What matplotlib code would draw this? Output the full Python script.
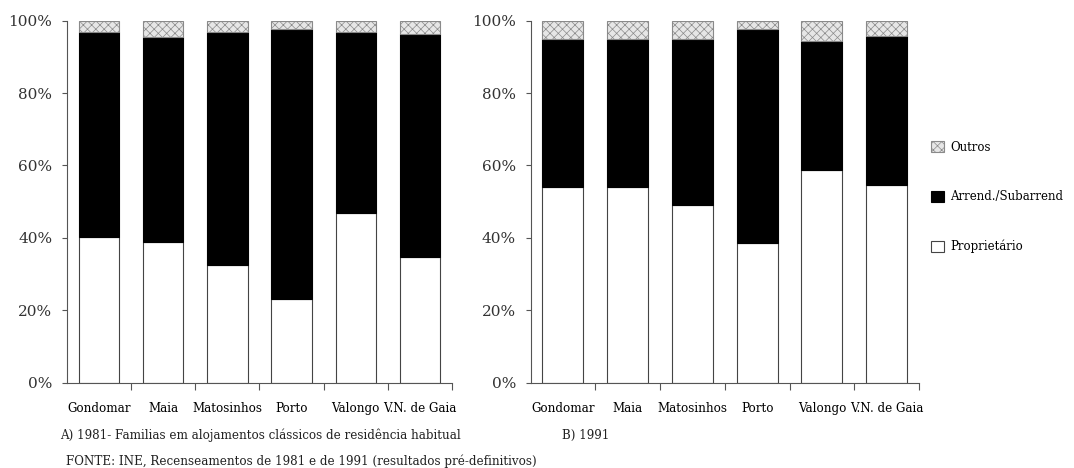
import matplotlib
matplotlib.use("Agg")
import matplotlib.pyplot as plt
import numpy as np
from matplotlib.patches import Patch

categories = ["Gondomar", "Maia", "Matosinhos", "Porto", "Valongo", "V.N. de Gaia"]

# 1981 (percent)
prop_1981 = [40.3, 39.0, 32.5, 23.2, 47.0, 34.7]
arrend_1981 = [56.7, 56.6, 64.5, 74.4, 50.0, 61.6]
outros_1981 = [3.0, 4.4, 3.0, 2.4, 3.0, 3.7]

# 1991 (percent)
prop_1991 = [54.0, 54.0, 49.0, 38.6, 58.8, 54.7]
arrend_1991 = [40.9, 40.9, 45.9, 59.1, 35.5, 41.2]
outros_1991 = [5.1, 5.1, 5.1, 2.3, 5.7, 4.1]

labels = ["Proprietário", "Arrend./Subarrend", "Outros"]
caption_a = "A) 1981- Familias em alojamentos clássicos de residência habitual"
caption_b = "B) 1991"
source = "FONTE: INE, Recenseamentos de 1981 e de 1991 (resultados pré-definitivos)"

plt.rcParams["font.family"] = ["DejaVu Serif"]
plt.rcParams["hatch.linewidth"] = 0.5
plt.rcParams["hatch.color"] = "#8a8a8a"

fig = plt.figure(figsize=(10.74, 4.68), dpi=100)
W, H = 1074, 468

def make_ax(left_px, right_px):
    top_px, bot_px = 20.7, 382.7
    return fig.add_axes([left_px / W, 1 - bot_px / H,
                         (right_px - left_px) / W, (bot_px - top_px) / H])

ax1 = make_ax(67, 452)
ax2 = make_ax(530.5, 919)

prop_style = dict(facecolor="white", edgecolor="#444444", linewidth=0.8)
arr_style = dict(facecolor="black", edgecolor="black", linewidth=0.8)
out_style = dict(facecolor="#e6e6e6", edgecolor="#8a8a8a", linewidth=0.8, hatch="xxxx")

def draw(ax, prop, arr, out):
    x = np.arange(len(categories))
    prop = np.array(prop); arr = np.array(arr); out = np.array(out)
    bw = 0.63
    ax.bar(x, prop, bw, **prop_style)
    ax.bar(x, arr, bw, bottom=prop, **arr_style)
    ax.bar(x, out, bw, bottom=prop + arr, **out_style)
    ax.set_xlim(-0.5, len(categories) - 0.5)
    ax.set_ylim(0, 100)
    ax.set_xticks(x)
    ax.set_xticklabels(categories, fontsize=8.6)
    ax.tick_params(axis="x", which="major", length=0, pad=14)
    ax.set_xticks(np.arange(0.5, len(categories), 1.0), minor=True)
    ax.tick_params(axis="x", which="minor", length=5, width=0.8, color="#555555", direction="out")
    ax.set_yticks([0, 20, 40, 60, 80, 100])
    ax.set_yticklabels(["0%", "20%", "40%", "60%", "80%", "100%"], fontsize=11, color="#333333")
    ax.tick_params(axis="y", length=3.5, width=0.8, color="#555555", pad=7)
    for s in ["top", "right"]:
        ax.spines[s].set_visible(False)
    for s in ["left", "bottom"]:
        ax.spines[s].set_color("#555555")
        ax.spines[s].set_linewidth(0.8)

draw(ax1, prop_1981, arrend_1981, outros_1981)
draw(ax2, prop_1991, arrend_1991, outros_1991)

handles = [Patch(**out_style), Patch(**arr_style), Patch(**prop_style)]
fig.legend(handles, [labels[2], labels[1], labels[0]],
           loc="center left", bbox_to_anchor=(931 / W, 1 - 197 / H),
           frameon=False, fontsize=8.5, labelspacing=3.1,
           handlelength=1.1, handleheight=1.1, handletextpad=0.5,
           borderpad=0, borderaxespad=0)

fig.text(60 / W, 1 - 435 / H, caption_a, fontsize=8.6, va="center", ha="left", color="#222222")
fig.text(562 / W, 1 - 435 / H, caption_b, fontsize=8.6, va="center", ha="left", color="#222222")
fig.text(66 / W, 1 - 461 / H, source, fontsize=8.6, va="center", ha="left", color="#222222")

fig.savefig("out.png", dpi=100)
